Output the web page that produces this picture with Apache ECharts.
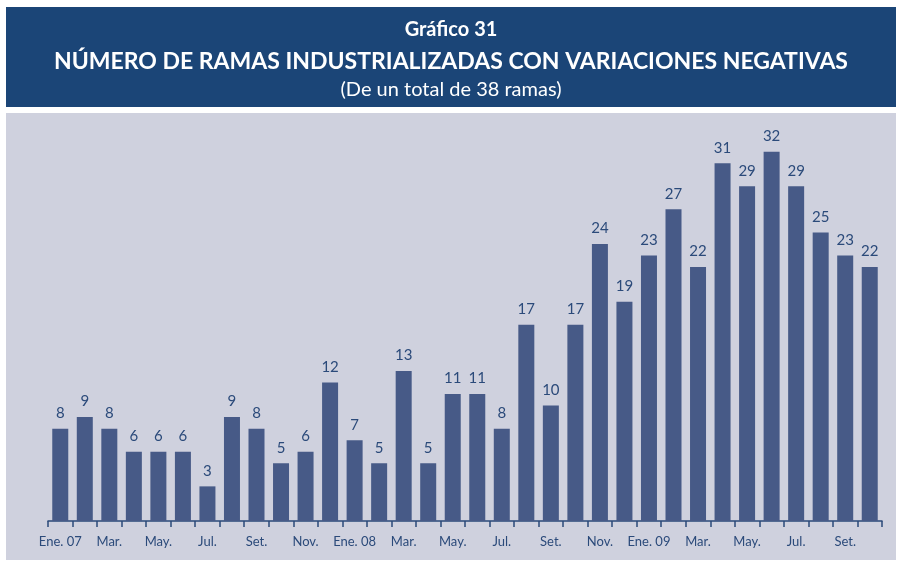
<!DOCTYPE html>
<html>
<head>
<meta charset="utf-8">
<script src="https://cdn.jsdelivr.net/npm/echarts@6/dist/echarts.min.js"></script>
<style>
  html, body { margin: 0; padding: 0; background: #fff; }
  #chart { width: 902px; height: 563px; }
</style>
</head>
<body>
<div id="chart"></div>
<script>
// meses (se muestra uno de cada dos)
const months = [
  'Ene. 07', 'Feb.', 'Mar.', 'Abr.', 'May.', 'Jun.', 'Jul.', 'Ago.', 'Set.', 'Oct.', 'Nov.', 'Dic.',
  'Ene. 08', 'Feb.', 'Mar.', 'Abr.', 'May.', 'Jun.', 'Jul.', 'Ago.', 'Set.', 'Oct.', 'Nov.', 'Dic.',
  'Ene. 09', 'Feb.', 'Mar.', 'Abr.', 'May.', 'Jun.', 'Jul.', 'Ago.', 'Set.', 'Oct.'
]
// número de ramas con variación negativa
const ramasNegativas = [
  8, 9, 8, 6, 6, 6, 3, 9, 8, 5, 6, 12,
  7, 5, 13, 5, 11, 11, 8, 17, 10, 17, 24, 19,
  23, 27, 22, 31, 29, 32, 29, 25, 23, 22
]

const titulo = 'Gráfico 31'
const subtitulo = 'NÚMERO DE RAMAS INDUSTRIALIZADAS CON VARIACIONES NEGATIVAS'
const nota = '(De un total de 38 ramas)'

const textColor = '#2b4a7a'
const font = 'Lato'

const chart = echarts.init(document.getElementById('chart'), null, { renderer: 'canvas' })

chart.setOption({
  animation: false,
  graphic: [
    {
      type: 'rect', z: -10,
      shape: { x: 6, y: 7, width: 890, height: 100 },
      style: { fill: '#1b4577' }
    },
    {
      type: 'rect', z: -10,
      shape: { x: 6, y: 113, width: 890, height: 447 },
      style: { fill: '#cfd1de' }
    }
  ],
  title: [
    {
      text: titulo, left: 'center', top: 15,
      textStyle: { color: '#fff', fontFamily: font, fontWeight: 'bold', fontSize: 20 }
    },
    {
      text: subtitulo, left: 'center', top: 45,
      textStyle: { color: '#fff', fontFamily: font, fontWeight: 'bold', fontSize: 23 }
    },
    {
      text: nota, left: 'center', top: 75,
      textStyle: { color: '#fff', fontFamily: font, fontWeight: 'normal', fontSize: 20 }
    }
  ],
  grid: {
    left: 48,
    right: 20,
    top: 117,
    bottom: 42
  },
  xAxis: {
    type: 'category',
    data: months,
    axisLine: { show: true, lineStyle: { color: '#2b4a7a', width: 1.5 } },
    axisTick: { show: true, interval: 0, length: 6, lineStyle: { color: '#2b4a7a', width: 1.5 } },
    axisLabel: {
      interval: 1,
      color: textColor,
      fontFamily: font,
      fontSize: 13,
      margin: 14
    }
  },
  yAxis: {
    type: 'value',
    min: 0,
    max: 35,
    show: false,
    splitLine: { show: false }
  },
  series: [
    {
      name: 'Ramas',
      type: 'bar',
      data: ramasNegativas,
      barWidth: 16,
      itemStyle: { color: '#475a87' },
      label: {
        show: true,
        position: 'top',
        distance: 8,
        color: textColor,
        fontFamily: font,
        fontSize: 15
      }
    }
  ]
})
</script>
</body>
</html>
